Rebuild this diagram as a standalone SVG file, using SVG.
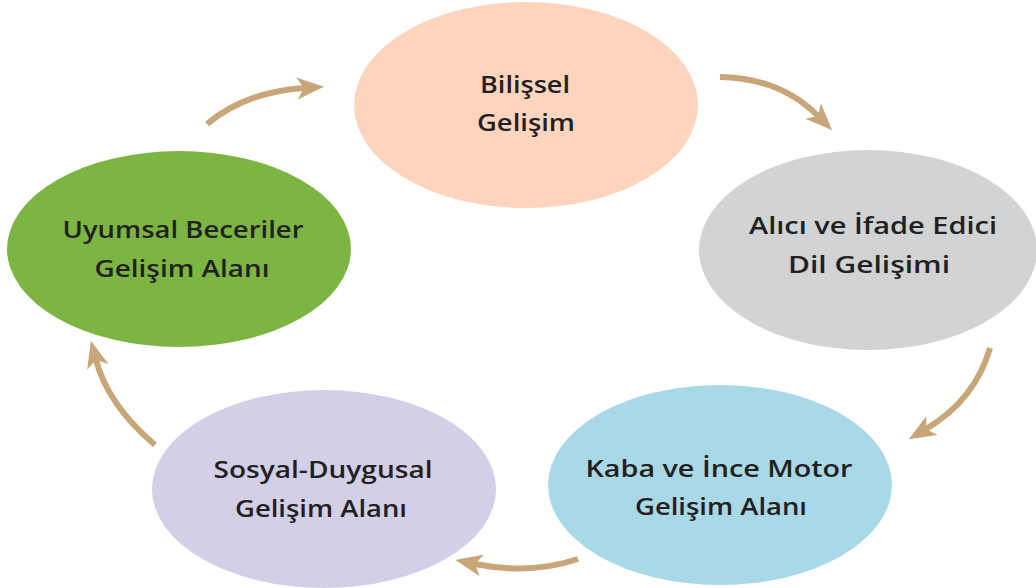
<svg xmlns="http://www.w3.org/2000/svg" width="1036" height="588" viewBox="0 0 1036 588">
<defs>
<style>
.lbl{font-family:"Open Sans","Liberation Sans",sans-serif;font-weight:600;font-size:23px;fill:#231F20;text-anchor:middle}
.arr{fill:none;stroke:#C8A679;stroke-width:6}
</style>
<marker id="ah" markerUnits="userSpaceOnUse" markerWidth="30" markerHeight="26" viewBox="0 -13 30 26" refX="7" refY="0" orient="auto">
<path d="M0,-11 L27,0 L0,11 L7,0 Z" fill="#C8A679"/>
</marker>
</defs>
<rect width="1036" height="588" fill="#FFFFFF"/>
<g id="connectors">
<path class="arr" d="M207,124 Q245,92 304,88" marker-end="url(#ah)"/>
<path class="arr" d="M720,77 Q780,78 818,116" marker-end="url(#ah)"/>
<path class="arr" d="M990,348 Q975,400 926,429" marker-end="url(#ah)"/>
<path class="arr" d="M578,559 Q530,575 475,564" marker-end="url(#ah)"/>
<path class="arr" d="M155,445 Q108,405 96,360" marker-end="url(#ah)"/>
</g>
<g id="bilissel">
<ellipse cx="526" cy="105" rx="172" ry="103" fill="#FDD5BF"/>
<text class="lbl" x="525" y="93" textLength="90" lengthAdjust="spacingAndGlyphs">Bilişsel</text>
<text class="lbl" x="526" y="131" textLength="98" lengthAdjust="spacingAndGlyphs">Gelişim</text>
</g>
<g id="dil">
<ellipse cx="868" cy="250" rx="169" ry="100" fill="#D1D3D4"/>
<text class="lbl" x="873" y="234" textLength="248" lengthAdjust="spacingAndGlyphs">Alıcı ve İfade Edici</text>
<text class="lbl" x="869" y="273" textLength="162" lengthAdjust="spacingAndGlyphs">Dil Gelişimi</text>
</g>
<g id="motor">
<ellipse cx="720" cy="485" rx="172" ry="100" fill="#A9D8E6"/>
<text class="lbl" x="719" y="477" textLength="267" lengthAdjust="spacingAndGlyphs">Kaba ve İnce Motor</text>
<text class="lbl" x="721" y="515" textLength="172" lengthAdjust="spacingAndGlyphs">Gelişim Alanı</text>
</g>
<g id="sosyal">
<ellipse cx="324" cy="489" rx="172" ry="99" fill="#D2CFE7"/>
<text class="lbl" x="323" y="478" textLength="219" lengthAdjust="spacingAndGlyphs">Sosyal-Duygusal</text>
<text class="lbl" x="321" y="517" textLength="172" lengthAdjust="spacingAndGlyphs">Gelişim Alanı</text>
</g>
<g id="uyumsal">
<ellipse cx="179" cy="249" rx="172" ry="98" fill="#7CB542"/>
<text class="lbl" x="183" y="238" textLength="241" lengthAdjust="spacingAndGlyphs">Uyumsal Beceriler</text>
<text class="lbl" x="182" y="277" textLength="175" lengthAdjust="spacingAndGlyphs">Gelişim Alanı</text>
</g>
</svg>
